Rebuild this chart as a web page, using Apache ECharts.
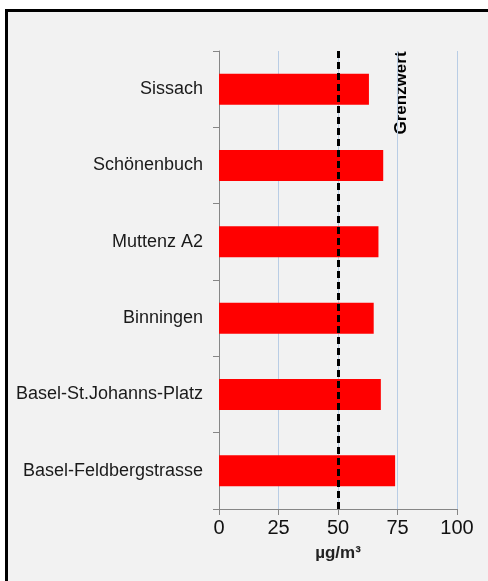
<!DOCTYPE html>
<html>
<head>
<meta charset="utf-8">
<script src="https://cdn.jsdelivr.net/npm/echarts@6/dist/echarts.min.js"></script>
<style>
  html, body { margin: 0; padding: 0; background: #fff; overflow: hidden; }
  #frame { position: absolute; left: 5px; top: 9px; width: 480px; height: 569px;
           border-left: 3px solid #000; border-top: 3px solid #000; background: #f2f2f2; }
  #main { position: absolute; left: 0; top: 0; width: 488px; height: 581px; }
</style>
</head>
<body>
<div id="frame"></div>
<div id="main"></div>
<script>
// stations, top to bottom
const stations = ['Sissach', 'Schönenbuch', 'Muttenz A2', 'Binningen', 'Basel-St.Johanns-Platz', 'Basel-Feldbergstrasse'];
const values = [63, 69, 67, 65, 68, 74];
const limitValue = 50;
const xTicks = [0, 25, 50, 75, 100];

var chartDom = document.getElementById('main');
var myChart = echarts.init(chartDom);
var option;

option = {
  backgroundColor: 'transparent',
  animation: false,
  grid: { left: 219, right: 31, top: 51, bottom: 72 },
  xAxis: {
    type: 'value',
    min: xTicks[0],
    max: xTicks[xTicks.length - 1],
    interval: 25,
    name: 'µg/m³',
    nameLocation: 'middle',
    nameGap: 36,
    nameTextStyle: { fontFamily: 'Liberation Sans', fontSize: 17, fontWeight: 'bold', color: '#222' },
    axisLine: { show: true, lineStyle: { color: '#868686', width: 1 } },
    axisTick: { show: true, length: 6, lineStyle: { color: '#868686' } },
    axisLabel: { fontFamily: 'Liberation Sans', fontSize: 20, color: '#111', margin: 9 },
    splitLine: { show: true, lineStyle: { color: '#b9cde5', width: 1 } }
  },
  yAxis: {
    type: 'category',
    inverse: true,
    data: stations,
    axisLine: { show: true, lineStyle: { color: '#868686', width: 1 } },
    axisTick: { show: true, length: 6, lineStyle: { color: '#868686' } },
    axisLabel: { fontFamily: 'Liberation Sans', fontSize: 18, color: '#1a1a1a', margin: 16 },
    splitLine: { show: false }
  },
  series: [
    {
      type: 'bar',
      data: values,
      barWidth: 31,
      itemStyle: { color: '#ff0000' },
      markLine: {
        symbol: 'none',
        silent: true,
        label: { show: false },
        lineStyle: { color: '#000', width: 3, type: [7, 4] },
        data: [{ xAxis: limitValue }]
      }
    }
  ],
  graphic: [
    {
      type: 'text',
      x: 401,
      y: 93,
      rotation: Math.PI / 2,
      style: {
        text: 'Grenzwert',
        fontFamily: 'Liberation Sans',
        fontSize: 17,
        fontWeight: 'bold',
        fill: '#000',
        align: 'center',
        verticalAlign: 'middle'
      }
    }
  ]
};

option && myChart.setOption(option);
</script>
</body>
</html>
